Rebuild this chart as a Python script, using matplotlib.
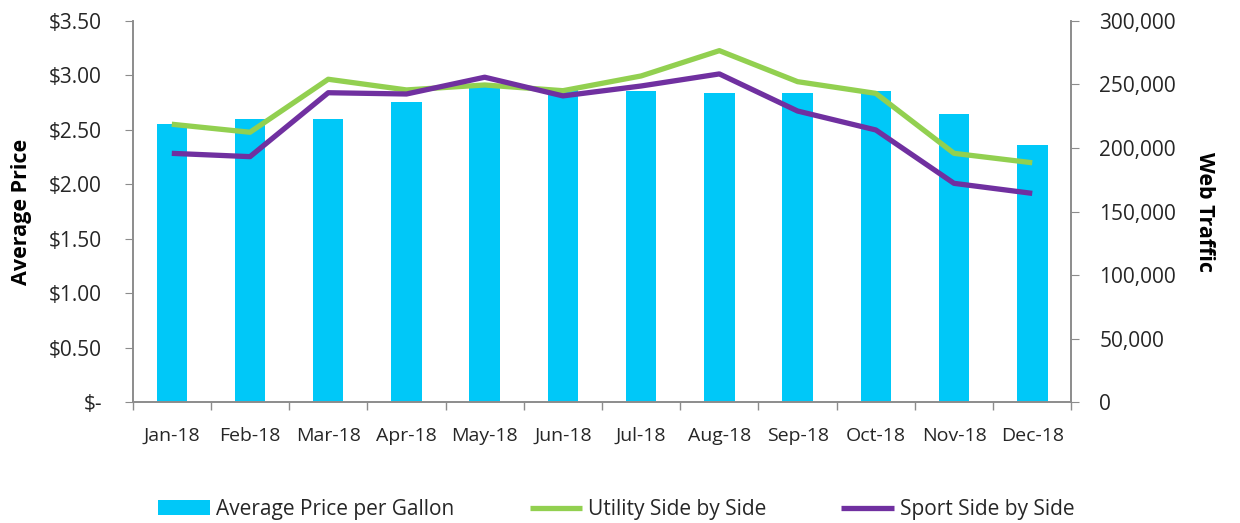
import matplotlib
matplotlib.use('Agg')
import matplotlib.pyplot as plt
import numpy as np
from matplotlib.ticker import FuncFormatter, FixedLocator

months = ['Jan-18', 'Feb-18', 'Mar-18', 'Apr-18', 'May-18', 'Jun-18',
          'Jul-18', 'Aug-18', 'Sep-18', 'Oct-18', 'Nov-18', 'Dec-18']
avg_price = [2.55, 2.60, 2.60, 2.76, 2.91, 2.88, 2.86, 2.84, 2.84, 2.86, 2.65, 2.36]
utility_sxs = [218700, 212400, 254100, 245700, 249600, 245100,
               256700, 276600, 252200, 243000, 195800, 188400]
sport_sxs = [195800, 193200, 243500, 242500, 255700, 241000,
             248800, 258300, 229100, 214200, 172200, 164300]

plt.rcParams['font.family'] = ['Open Sans', 'DejaVu Sans']

axis_grey = '#8c8c8c'
text_col = '#262626'

fig = plt.figure(figsize=(12.4, 5.23), dpi=100)
ax = fig.add_axes([0.107, 0.231, 0.757, 0.729])
ax2 = ax.twinx()

x = np.arange(len(months))
ax.bar(x, avg_price, width=0.39, color='#00C8F8', label='Average Price per Gallon')
ax2.plot(x, utility_sxs, color='#92D050', linewidth=3.8, label='Utility Side by Side',
         solid_capstyle='butt')
ax2.plot(x, sport_sxs, color='#7030A0', linewidth=3.8, label='Sport Side by Side',
         solid_capstyle='butt')

ax.set_xlim(-0.5, len(months) - 0.5)
ax.set_ylim(0, 3.5)
ax2.set_ylim(0, 300000)

ax.set_yticks(np.arange(0, 3.51, 0.5))
ax.yaxis.set_major_formatter(FuncFormatter(lambda v, p: '$-' if v == 0 else f'${v:.2f}'))
ax2.set_yticks(np.arange(0, 300001, 50000))
ax2.yaxis.set_major_formatter(FuncFormatter(lambda v, p: f'{int(v):,}'))

ax.set_xticks(x)
ax.set_xticklabels(months)
ax.xaxis.set_minor_locator(FixedLocator(np.arange(-0.5, len(months), 1.0)))
ax.tick_params(axis='x', which='major', length=0, pad=18, labelsize=14, labelcolor=text_col)
ax.tick_params(axis='x', which='minor', length=6, color=axis_grey, width=1)
ax.tick_params(axis='y', length=6, color=axis_grey, labelsize=15, labelcolor=text_col, pad=16)
ax2.tick_params(axis='y', length=6, color=axis_grey, labelsize=15, labelcolor=text_col, pad=14)

for a in (ax, ax2):
    a.spines['top'].set_visible(False)
    for s in ('left', 'right', 'bottom'):
        a.spines[s].set_color(axis_grey)
        a.spines[s].set_linewidth(1.2)

ax.set_ylabel('Average Price', fontsize=15.5, fontweight='bold', color='black', labelpad=12)
ax2.set_ylabel('Web Traffic', fontsize=15.5, fontweight='bold', color='black',
               rotation=-90, labelpad=28)

handles1, labels1 = ax.get_legend_handles_labels()
handles2, labels2 = ax2.get_legend_handles_labels()
fig.legend(handles1 + handles2, labels1 + labels2, loc='lower center',
           bbox_to_anchor=(0.497, -0.03), ncol=3, frameon=False, fontsize=15,
           handlelength=2.5, handletextpad=0.3, columnspacing=3.6,
           labelcolor=text_col)

fig.savefig('out.png', dpi=100)
